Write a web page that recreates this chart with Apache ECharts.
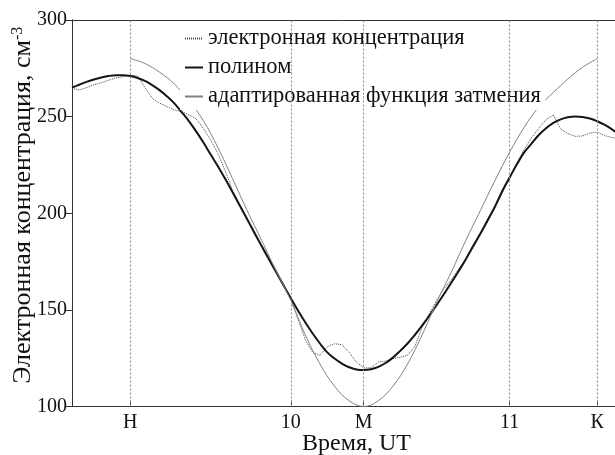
<!DOCTYPE html>
<html>
<head>
<meta charset="utf-8">
<script src="https://cdn.jsdelivr.net/npm/echarts@6/dist/echarts.min.js"></script>
<style>
  html, body { margin: 0; padding: 0; background: #fff; }
  #chart { width: 615px; height: 455px; }
</style>
</head>
<body>
<div id="chart"></div>
<script>
// Time axis: minutes after 09:00 UT
const tickValues = [16, 60, 80, 120, 144];
const tickLabels = ['Н', '10', 'М', '11', 'К'];

const seriesNames = ['электронная концентрация', 'полином', 'адаптированная функция затмения'];

// measured electron concentration and its polynomial fit (same time grid)
const measTime = [0, 2, 4, 6, 8, 10, 12, 14, 16, 18, 20, 22, 24, 26, 28, 30, 32, 34, 36, 38,
  40, 42, 44, 46, 48, 50, 52, 54, 56, 58, 60, 62, 64, 66, 68, 70, 72, 74, 76, 78,
  80, 82, 84, 86, 88, 90, 92, 94, 96, 98, 100, 102, 104, 106, 108, 110, 112, 114, 116, 118,
  120, 122, 124, 126, 128, 130, 132, 134, 136, 138, 140, 142, 144, 146, 148, 150];
const measValues = [264.6, 263.8, 265, 266.5, 267.5, 268.8, 270, 270.7, 271.5, 271, 265, 259.5, 257, 255.2, 253.5, 252.6, 251, 249, 244, 238,
  231, 222, 212, 204.5, 197.5, 189, 183.5, 177.5, 170.5, 163, 155.5, 145, 134.5, 128, 126.5, 131, 132.5, 132, 128, 123,
  120, 120, 123, 123.5, 124.8, 125.5, 126.5, 131, 141, 148, 155, 161, 165.5, 171, 176.5, 182, 189, 195.5, 203, 210.5,
  218, 226, 233, 239, 244, 248.5, 250.8, 243.5, 241.2, 239.8, 240, 241.5, 242, 240.2, 239.2, 238.5];
const polyValues = [265, 266.5, 268, 269.2, 270.2, 271, 271.4, 271.4, 271, 270, 268.5, 266.3, 263.7, 260.6, 257, 252.5, 247.8, 242.5, 236.7, 230.5,
  224.3, 217.8, 211, 204, 197, 190, 183, 176.2, 169.5, 162.7, 156, 149.6, 143.5, 137.8, 132.6, 128, 124.8, 122.2, 120.3, 119.2,
  118.9, 119.3, 120.5, 122.5, 125.3, 128.8, 132.6, 137, 141.8, 147, 152.5, 158.2, 164, 170, 176.2, 183, 189.5, 196.5, 203.5, 211.5,
  218.5, 225.3, 231.5, 236, 240.5, 244, 246.8, 248.6, 249.7, 250.1, 249.8, 249, 247.6, 245.8, 243.5, 240.8];

// fitted eclipse function between first (Н) and last (К) contact
const eclTime = [16, 20, 24, 28, 32, 36, 40, 44, 48, 52, 56, 60, 64, 68, 72, 76, 80,
  84, 88, 92, 96, 100, 104, 108, 112, 116, 120, 124, 128, 132, 136, 140, 144];
const eclValues = [280, 277.5, 273, 267, 258.5, 248, 234, 218, 201.5, 186, 170, 155, 137, 122, 110.5, 103, 100,
  103, 110.5, 122, 137, 154, 169.5, 186, 201.5, 217, 231.5, 244.5, 255, 262.5, 269.5, 275.5, 280];

const pairs = (xs, ys) => xs.map((x, i) => [x, ys[i]]);

const FONT = '"Liberation Serif", "Times New Roman", serif';
const AXIS = '#333';

const chart = echarts.init(document.getElementById('chart'), null, { renderer: 'canvas' });

chart.setOption({
  animation: false,
  backgroundColor: '#fff',
  textStyle: { fontFamily: FONT },
  grid: { left: 72, top: 20, right: -4, bottom: 48.5, containLabel: false, outerBoundsMode: 'none' },
  legend: {
    orient: 'vertical',
    left: 180,
    top: 21,
    padding: [6, 4, 2, 4],
    backgroundColor: '#fff',
    itemWidth: 18,
    itemHeight: 10,
    itemGap: 6,
    data: seriesNames,
    itemStyle: { opacity: 0 },
    textStyle: { fontFamily: FONT, fontSize: 22.5, color: '#111', lineHeight: 22 }
  },
  xAxis: [
    {
      type: 'value', min: 0, max: 150, position: 'bottom',
      name: 'Время, UT', nameLocation: 'middle', nameGap: 25, nameMoveOverlap: false,
      nameTextStyle: { fontFamily: FONT, fontSize: 24, color: '#111', padding: [0, 0, 0, 22] },
      axisLine: { show: true, lineStyle: { color: AXIS, width: 1 } },
      axisTick: { show: true, inside: true, length: 6, customValues: tickValues, lineStyle: { color: AXIS } },
      axisLabel: {
        customValues: tickValues, margin: 6,
        fontFamily: FONT, fontSize: 20, color: '#111',
        formatter: v => tickLabels[tickValues.indexOf(v)] ?? ''
      },
      splitLine: { show: false }
    },
    {
      type: 'value', min: 0, max: 150, position: 'top',
      axisLine: { show: true, lineStyle: { color: AXIS, width: 1 } },
      axisTick: { show: false }, axisLabel: { show: false }, splitLine: { show: false }
    }
  ],
  yAxis: [
    {
      type: 'value', min: 100, max: 300, interval: 50, position: 'left',
      name: 'Электронная концентрация, см{sup|-3}', nameLocation: 'middle', nameRotate: 90,
      nameGap: 36, nameMoveOverlap: false,
      nameTextStyle: {
        fontFamily: FONT, fontSize: 26, color: '#111', padding: [0, 0, 0, 16],
        rich: { sup: { fontFamily: FONT, fontSize: 16, color: '#111', verticalAlign: 'top' } }
      },
      axisLine: { show: true, lineStyle: { color: AXIS, width: 1 } },
      axisTick: { show: true, inside: false, length: 5, lineStyle: { color: AXIS } },
      axisLabel: { margin: 5, fontFamily: FONT, fontSize: 20, color: '#111' },
      splitLine: { show: false }
    },
    {
      type: 'value', min: 100, max: 300, interval: 50, position: 'right',
      axisLine: { show: true, lineStyle: { color: AXIS, width: 1 } },
      axisTick: { show: true, inside: true, length: 6, lineStyle: { color: AXIS } },
      axisLabel: { show: false }, splitLine: { show: false }
    }
  ],
  series: [
    {
      // vertical reference lines at the labelled moments
      type: 'line', data: [], z: 1, silent: true,
      markLine: {
        silent: true, symbol: 'none', animation: false,
        label: { show: false },
        lineStyle: { type: [2, 2], color: '#8a8a8a', width: 1 },
        data: tickValues.map(v => ({ xAxis: v }))
      }
    },
    {
      name: seriesNames[0], type: 'line', showSymbol: false, symbol: 'none',
      data: pairs(measTime, measValues),
      lineStyle: { color: '#4a4a4a', width: 1, type: [1, 1] },
      itemStyle: { color: '#4a4a4a' }
    },
    {
      name: seriesNames[1], type: 'line', showSymbol: false, symbol: 'none', smooth: 0.4,
      data: pairs(measTime, polyValues),
      lineStyle: { color: '#151515', width: 2 },
      itemStyle: { color: '#151515' }
    },
    {
      name: seriesNames[2], type: 'line', showSymbol: false, symbol: 'none', smooth: 0.4,
      data: pairs(eclTime, eclValues),
      lineStyle: { color: '#808080', width: 1 },
      itemStyle: { color: '#808080' }
    }
  ]
});
</script>
</body>
</html>
